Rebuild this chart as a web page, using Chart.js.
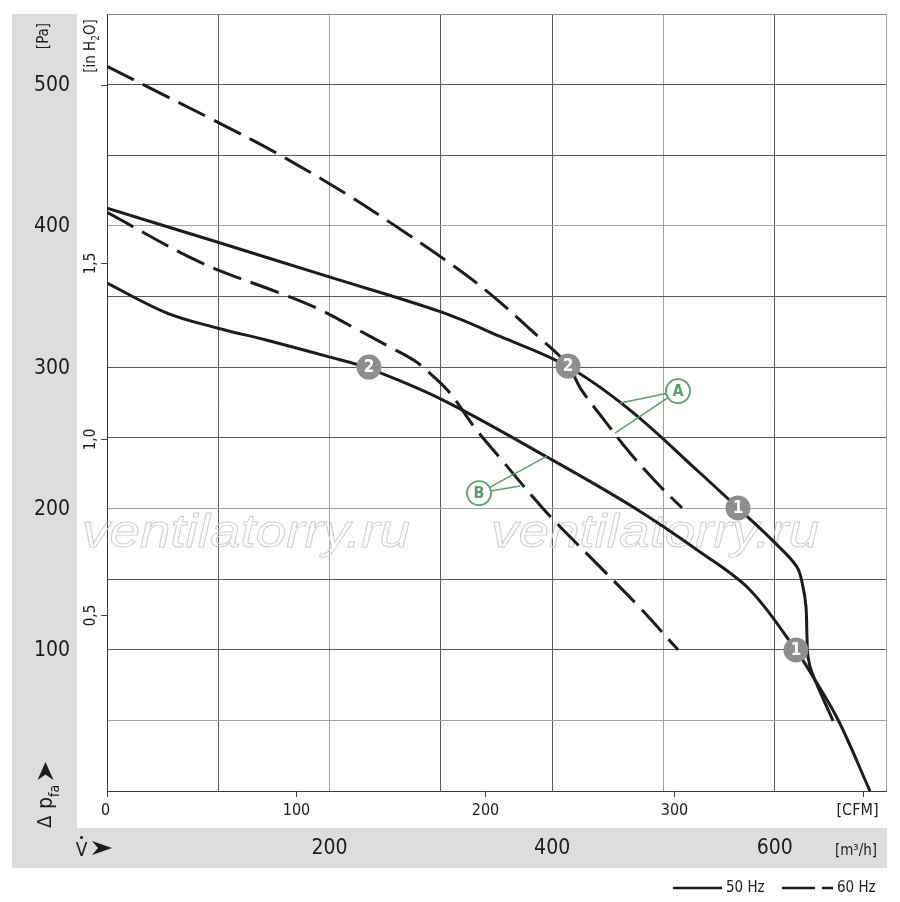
<!DOCTYPE html>
<html><head><meta charset="utf-8">
<script src="https://cdn.jsdelivr.net/npm/chart.js@4.4.1/dist/chart.umd.min.js"></script>
<style>html,body{margin:0;padding:0;background:#fff;}canvas{display:block;}</style>
</head><body>
<canvas id="c" width="900" height="902" style="width:900px;height:902px"></canvas>
<script>
// ---- data (flow in m³/h, pressure in Pa) ----
const flowA50 = [0, 99.7, 200.4, 300.1, 353.2, 413.4, 470.0, 532.9, 567.0, 600.3, 620.0, 625.4, 628.1, 629.0, 629.9, 633.5, 652.4];
const pressA50 = [412.5, 388.4, 363.7, 339.1, 321.8, 300.8, 269.6, 225.1, 200.3, 175.6, 158.6, 144.5, 130.4, 109.2, 95.0, 83.7, 49.7];
const flowB50 = [0, 53.9, 99.7, 143.8, 200.4, 234.5, 301.9, 395.4, 472.7, 532.9, 577.8, 619.1, 631.7, 656.9, 685.6];
const pressB50 = [359.5, 338.3, 327.6, 319.1, 307.1, 299.3, 276.7, 236.4, 201.0, 169.2, 142.3, 99.8, 84.4, 50.4, 0];
const flowA60 = [0, 99.7, 152.8, 215.7, 254.3, 301.9, 342.4, 389.1, 414.3, 425.9, 447.5, 470.0, 494.2, 516.7];
const pressA60 = [512.9, 473.3, 451.3, 422.3, 402.5, 377.0, 353.1, 320.5, 301.4, 284.5, 261.8, 239.2, 218.0, 200.3];
const flowB60 = [0, 83.6, 155.5, 188.7, 221.1, 254.3, 276.8, 292.0, 308.2, 330.7, 353.2, 395.4, 438.5, 479.0, 513.1];
const pressB60 = [409.6, 374.3, 352.4, 341.7, 328.3, 314.2, 304.3, 294.4, 281.7, 256.9, 235.7, 196.8, 162.2, 129.6, 99.9];

// operating point markers
const markerLabels = ['2', '2', '1', '1'];
const markerFlow = [414.3, 235.4, 567.0, 619.1];
const markerPress = [300.8, 300.1, 200.3, 99.8];

// curve callouts
const calloutLabels = ['A', 'B'];
const calloutFlow = [513.1, 334.3];
const calloutPress = [283.1, 210.9];
const calloutTargetsFlow = [[461.0, 456.5], [395.4, 371.1]];
const calloutTargetsPress = [[274.6, 253.4], [237.1, 215.9]];

// tick labels
const paTicks = [100, 200, 300, 400, 500];
const inH2OTicks = [0.5, 1.0, 1.5];
const inH2OLabels = ['0,5', '1,0', '1,5'];
const cfmTicks = [0, 100, 200, 300, 400];
const cfmLabels = ['0', '100', '200', '300', '[CFM]'];
const m3hTicks = [200, 400, 600];
const legendLabels = ['50 Hz', '60 Hz'];

const PA_PER_INH2O = 249.089;
const M3H_PER_CFM = 1.699011;
const FONT = '"Liberation Sans Narrow","DejaVu Sans Condensed","Arial Narrow","Liberation Sans",sans-serif';

function pts(fx, fy) { return fx.map((v, i) => ({ x: v, y: fy[i] })); }

const lightX = [200, 500, 700];
const lightY = [400, 200, 50];

function T(c, s, x, y, size, align, weight, color) {
  c.font = (weight || 'normal') + ' ' + size + 'px ' + FONT;
  c.textAlign = align || 'center';
  c.textBaseline = 'middle';
  c.fillStyle = color || '#1c1c1c';
  c.fillText(s, x, y);
}
function arrowHead(c, x, y, len, half, dir) {
  c.beginPath();
  if (dir === 'right') {
    c.moveTo(x + len, y); c.lineTo(x, y - half); c.lineTo(x + len * 0.3, y); c.lineTo(x, y + half);
  } else {
    c.moveTo(x, y - len); c.lineTo(x - half, y); c.lineTo(x, y - len * 0.3); c.lineTo(x + half, y);
  }
  c.closePath(); c.fill();
}

const deco = {
  id: 'deco',
  beforeDraw(chart) {
    const c = chart.ctx;
    c.save();
    c.fillStyle = '#dcdddf';
    c.fillRect(12, 14, 65, 854);
    c.fillRect(12, 828, 875, 40);
    c.restore();
  },
  beforeDatasetsDraw(chart) {
    const c = chart.ctx;
    c.save();
    c.font = 'italic 46px "Liberation Sans",Arial,sans-serif';
    c.textAlign = 'left'; c.textBaseline = 'alphabetic';
    c.strokeStyle = '#cdcdcd'; c.lineWidth = 0.9;
    const w = c.measureText('ventilatorry.ru').width;
    [82, 491].forEach(x0 => {
      c.save(); c.translate(x0, 547); c.scale(328 / w, 1);
      c.strokeText('ventilatorry.ru', 0, 0);
      c.restore();
    });
    c.restore();
  },
  afterDatasetsDraw(chart) {
    const c = chart.ctx, xs = chart.scales.x, ys = chart.scales.y;
    c.save();
    calloutLabels.forEach((lab, i) => {
      const cx = xs.getPixelForValue(calloutFlow[i]), cy = ys.getPixelForValue(calloutPress[i]);
      const r = 12;
      c.strokeStyle = '#5f9c6c'; c.lineWidth = 1.5;
      calloutTargetsFlow[i].forEach((tf, j) => {
        const tx = xs.getPixelForValue(tf), ty = ys.getPixelForValue(calloutTargetsPress[i][j]);
        const dx = tx - cx, dy = ty - cy, d = Math.hypot(dx, dy);
        c.beginPath(); c.moveTo(cx + dx / d * r, cy + dy / d * r); c.lineTo(tx, ty); c.stroke();
      });
      c.beginPath(); c.arc(cx, cy, r, 0, Math.PI * 2); c.fillStyle = '#fff'; c.fill();
      c.lineWidth = 1.8; c.stroke();
      T(c, lab, cx, cy + 1, 16, 'center', 'bold', '#5f9c6c');
    });
    markerLabels.forEach((lab, i) => {
      const px = xs.getPixelForValue(markerFlow[i]), py = ys.getPixelForValue(markerPress[i]);
      c.beginPath(); c.arc(px, py, 12.5, 0, Math.PI * 2); c.fillStyle = '#8e8e8e'; c.fill();
      T(c, lab, px, py + 1, 17, 'center', 'bold', '#ffffff');
    });
    c.restore();
  },
  afterDraw(chart) {
    const c = chart.ctx, xs = chart.scales.x, ys = chart.scales.y;
    const L = chart.chartArea.left, B = chart.chartArea.bottom;
    c.save();
    c.strokeStyle = '#444'; c.lineWidth = 1;
    paTicks.forEach(v => T(c, String(v), 70, ys.getPixelForValue(v) + 1, 21, 'right'));
    c.save(); c.translate(44, 36); c.rotate(-Math.PI / 2); T(c, '[Pa]', 0, 0, 15); c.restore();
    const p500 = Math.round(ys.getPixelForValue(500)) + 0.5;
    c.beginPath(); c.moveTo(L - 6, p500); c.lineTo(L, p500); c.stroke();
    inH2OTicks.forEach((v, i) => {
      const py = Math.round(ys.getPixelForValue(v * PA_PER_INH2O)) + 0.5;
      c.beginPath(); c.moveTo(L - 6, py); c.lineTo(L, py); c.stroke();
      c.save(); c.translate(91, py); c.rotate(-Math.PI / 2); T(c, inH2OLabels[i], 0, 0, 15); c.restore();
    });
    c.save(); c.translate(91, 46); c.rotate(-Math.PI / 2);
    c.font = 'normal 15px ' + FONT;
    const p1 = '[in H', p3 = 'O]';
    const w1 = c.measureText(p1).width, w3 = c.measureText(p3).width;
    c.font = 'normal 10px ' + FONT; const w2 = c.measureText('2').width;
    let x0 = -(w1 + w2 + w3) / 2;
    T(c, p1, x0, 0, 15, 'left'); x0 += w1;
    T(c, '2', x0, 5, 10, 'left'); x0 += w2;
    T(c, p3, x0, 0, 15, 'left');
    c.restore();
    cfmTicks.forEach((v, i) => {
      const px = Math.round(xs.getPixelForValue(v * M3H_PER_CFM)) + 0.5;
      c.beginPath(); c.moveTo(px, B); c.lineTo(px, B + 6); c.stroke();
      const off = (i === cfmTicks.length - 1) ? -6 : (i === 0 ? -2 : 0);
      T(c, cfmLabels[i], px + off, 811, 16);
    });
    m3hTicks.forEach(v => T(c, String(v), xs.getPixelForValue(v), 849, 21));
    T(c, '[m³/h]', 856, 851, 15);
    T(c, 'V', 81.5, 851, 19);
    c.fillStyle = '#1c1c1c';
    c.beginPath(); c.arc(81.5, 837.5, 1.6, 0, Math.PI * 2); c.fill();
    arrowHead(c, 92, 848, 20, 7, 'right');
    c.save(); c.translate(53, 828); c.rotate(-Math.PI / 2);
    T(c, 'Δ', 0, -7, 20, 'left');
    c.font = 'normal 20px ' + FONT; const wd = c.measureText('Δ ').width;
    T(c, 'p', wd + 1, -6, 21, 'left');
    c.font = 'normal 21px ' + FONT; const wp = c.measureText('p').width;
    T(c, 'fa', wd + wp + 1, 2, 14, 'left');
    c.restore();
    c.fillStyle = '#1c1c1c';
    arrowHead(c, 45.5, 780, 18, 8, 'up');
    c.strokeStyle = '#1c1c1c'; c.lineWidth = 2.5;
    c.beginPath(); c.moveTo(673, 888); c.lineTo(722, 888); c.stroke();
    T(c, legendLabels[0], 726, 888, 15, 'left');
    c.beginPath(); c.moveTo(782, 888); c.lineTo(815, 888); c.moveTo(822, 888); c.lineTo(833, 888); c.stroke();
    T(c, legendLabels[1], 837, 888, 15, 'left');
    c.restore();
  }
};

const lineStyle = { showLine: true, pointRadius: 0, borderColor: '#1c1c1c', borderWidth: 3, tension: 0.35, fill: false };

new Chart(document.getElementById('c'), {
  type: 'scatter',
  data: {
    datasets: [
      Object.assign({ label: 'A 50 Hz', data: pts(flowA50, pressA50) }, lineStyle),
      Object.assign({ label: 'B 50 Hz', data: pts(flowB50, pressB50) }, lineStyle),
      Object.assign({ label: 'A 60 Hz', data: pts(flowA60, pressA60), borderDash: [30, 10] }, lineStyle),
      Object.assign({ label: 'B 60 Hz', data: pts(flowB60, pressB60), borderDash: [30, 10] }, lineStyle)
    ]
  },
  options: {
    responsive: false, animation: false, devicePixelRatio: 1,
    layout: { padding: { left: 107, right: 14, top: 14, bottom: 111 } },
    plugins: { legend: { display: false }, tooltip: { enabled: false } },
    scales: {
      x: {
        type: 'linear', min: 0, max: 700,
        ticks: { display: false, stepSize: 100 },
        grid: { drawTicks: false, lineWidth: 1, color: ctx => lightX.includes(ctx.tick.value) ? '#a3a3a3' : '#5a5a5a' },
        border: { display: true, color: '#3a3a3a', width: 1 }
      },
      y: {
        type: 'linear', min: 0, max: 550,
        ticks: { display: false, stepSize: 50 },
        grid: { drawTicks: false, lineWidth: 1, color: ctx => lightY.includes(ctx.tick.value) ? '#a3a3a3' : (ctx.tick.value === 550 ? '#8a8a8a' : '#5a5a5a') },
        border: { display: true, color: '#3a3a3a', width: 1 }
      }
    }
  },
  plugins: [deco]
});
</script>
</body></html>
